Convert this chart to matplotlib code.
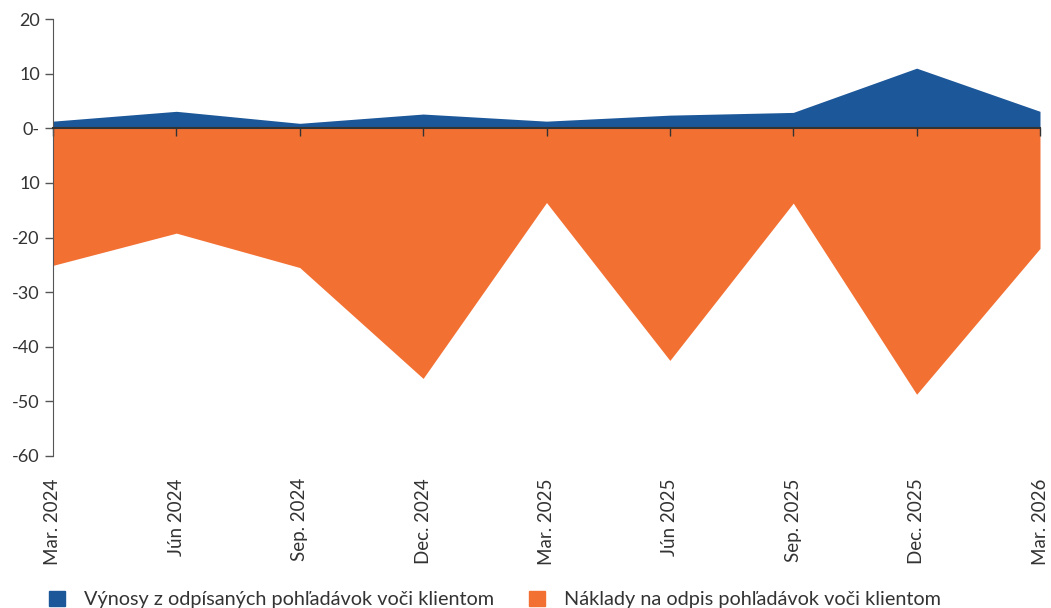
import numpy as np
import matplotlib.pyplot as plt
from matplotlib.patches import Patch

plt.rcParams['font.family'] = ['Lato', 'DejaVu Sans']

quarters = ['Mar. 2024', 'Jún 2024', 'Sep. 2024', 'Dec. 2024', 'Mar. 2025',
            'Jún 2025', 'Sep. 2025', 'Dec. 2025', 'Mar. 2026']
vynosy = [1.3, 3.1, 0.9, 2.6, 1.3, 2.4, 2.9, 11.0, 3.1]
naklady = [-25.1, -19.2, -25.5, -45.8, -13.6, -42.5, -13.7, -48.7, -22.0]
y_ticks = [20, 10, 0, -10, -20, -30, -40, -50, -60]
y_labels = ['20', '10', '0-', '10', '-20', '-30', '-40', '-50', '-60']

blue = '#1c5799'
orange = '#f37033'
txt = '#333333'

fig = plt.figure(figsize=(10.51, 6.08), dpi=100)
ax = fig.add_axes([53 / 1051, 1 - 456 / 608, (1040 - 53) / 1051, (456 - 19) / 608])

x = np.arange(len(quarters))
ax.fill_between(x, 0, vynosy, color=blue, lw=0)
ax.fill_between(x, 0, naklady, color=orange, lw=0)

ax.set_xlim(0, len(quarters) - 1)
ax.set_ylim(-60, 20)
ax.set_yticks(y_ticks)
ax.set_yticklabels(y_labels)
ax.tick_params(axis='y', colors='#555555', labelcolor=txt, labelsize=13, length=6, width=1)

for s in ['top', 'right']:
    ax.spines[s].set_visible(False)
ax.spines['left'].set_color('#555555')
ax.spines['bottom'].set_position(('data', 0))
ax.spines['bottom'].set_color('#333333')
ax.spines['bottom'].set_linewidth(1.5)
ax.spines['bottom'].set_zorder(5)
ax.set_xticks(x)
ax.tick_params(axis='x', labelbottom=False, colors='#333333', length=6, width=1)

sec = ax.secondary_xaxis('bottom')
sec.set_xticks(x)
sec.set_xticklabels(quarters, rotation=90)
sec.tick_params(length=0, pad=16, labelsize=13.5, labelcolor=txt)
sec.spines['bottom'].set_visible(False)

handles = [Patch(color=blue, label='Výnosy z odpísaných pohľadávok voči klientom'),
           Patch(color=orange, label='Náklady na odpis pohľadávok voči klientom')]
fig.legend(handles=handles, loc='lower left', bbox_to_anchor=(0.03, -0.03), ncol=2,
           frameon=False, fontsize=14.3, handlelength=0.8, handleheight=0.8, handletextpad=0.95,
           columnspacing=1.75, labelcolor=txt)

fig.savefig('out.png', dpi=100)
